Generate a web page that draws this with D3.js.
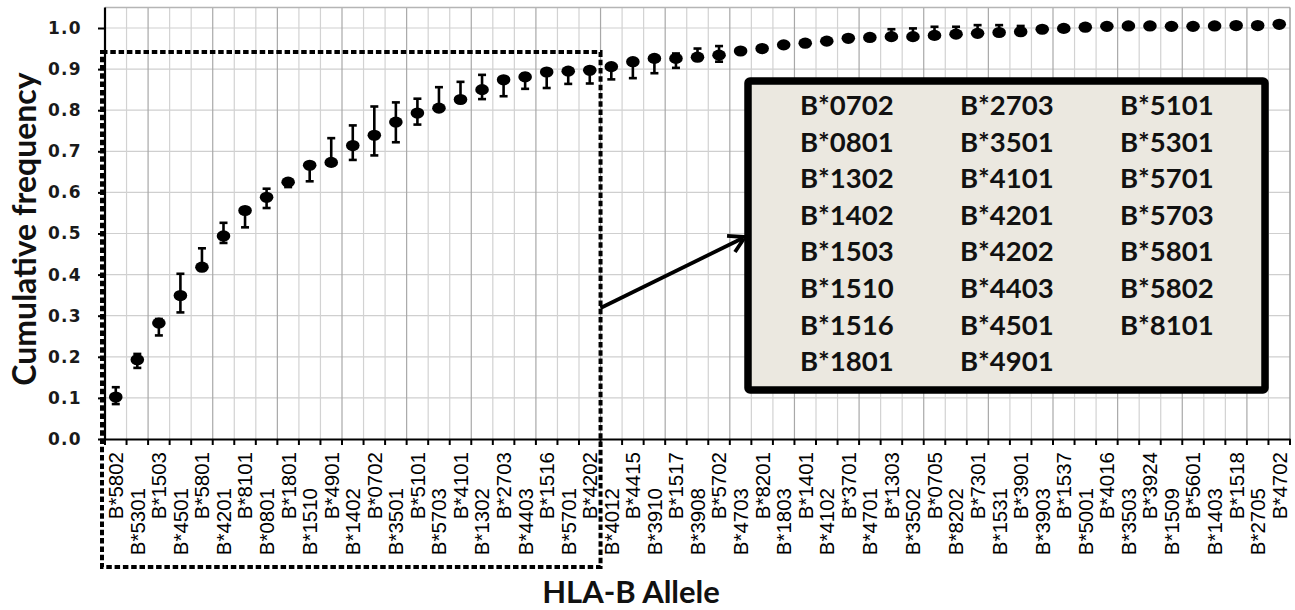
<!DOCTYPE html>
<html><head><meta charset="utf-8">
<script src="https://cdn.jsdelivr.net/npm/d3@7"></script>
<style>
html,body{margin:0;padding:0;background:#fff;}
svg{display:block;}
</style></head>
<body>
<svg id="c" width="1295" height="610"></svg>
<script>
const categories = ["B*5802","B*5301","B*1503","B*4501","B*5801","B*4201","B*8101","B*0801","B*1801","B*1510",
"B*4901","B*1402","B*0702","B*3501","B*5101","B*5703","B*4101","B*1302","B*2703","B*4403",
"B*1516","B*5701","B*4202","B*4012","B*4415","B*3910","B*1517","B*3908","B*5702","B*4703",
"B*8201","B*1803","B*1401","B*4102","B*3701","B*4701","B*1303","B*3502","B*0705","B*8202",
"B*7301","B*1531","B*3901","B*3903","B*1537","B*5001","B*4016","B*3503","B*3924","B*1509",
"B*5601","B*1403","B*1518","B*2705","B*4702"];
const values = [0.102,0.193,0.282,0.349,0.418,0.494,0.556,0.588,0.625,0.666,
0.673,0.714,0.739,0.771,0.793,0.805,0.826,0.850,0.874,0.881,
0.893,0.895,0.897,0.906,0.918,0.926,0.926,0.929,0.934,0.944,
0.950,0.959,0.963,0.968,0.975,0.977,0.979,0.979,0.982,0.985,
0.987,0.989,0.991,0.997,0.999,1.002,1.004,1.005,1.005,1.004,
1.004,1.005,1.006,1.006,1.009];
const errLow = [0.085,0.173,0.252,0.308,0.412,0.477,0.515,0.562,0.613,0.627,
0.668,0.679,0.690,0.722,0.765,0.800,0.822,0.827,0.834,0.852,
0.854,0.864,0.865,0.875,0.878,0.890,0.903,0.922,0.918,0.940,
0.950,0.959,0.963,0.968,0.975,0.977,0.979,0.979,0.982,0.985,
0.987,0.989,0.991,0.997,0.999,1.002,1.004,1.005,1.005,1.004,
1.004,1.005,1.006,1.006,1.009];
const errHigh = [0.126,0.207,0.292,0.402,0.464,0.526,0.562,0.609,0.632,0.672,
0.732,0.763,0.809,0.819,0.828,0.856,0.869,0.886,0.880,0.889,
0.898,0.900,0.902,0.910,0.922,0.930,0.938,0.950,0.956,0.948,
0.950,0.959,0.963,0.968,0.975,0.977,0.997,0.999,1.003,1.003,
1.007,1.007,1.005,0.997,0.999,1.002,1.004,1.005,1.005,1.004,
1.004,1.005,1.006,1.006,1.009];
const yTicks = [0,0.1,0.2,0.3,0.4,0.5,0.6,0.7,0.8,0.9,1.0];
const legendCol1 = ["B*0702","B*0801","B*1302","B*1402","B*1503","B*1510","B*1516","B*1801"];
const legendCol2 = ["B*2703","B*3501","B*4101","B*4201","B*4202","B*4403","B*4501","B*4901"];
const legendCol3 = ["B*5101","B*5301","B*5701","B*5703","B*5801","B*5802","B*8101"];
const yTitle = "Cumulative frequency";
const xTitle = "HLA-B Allele";

const svg = d3.select("#c");
const L = 105, R = 1290, T = 7.45, B = 439;
const x = d3.scaleBand().domain(categories).range([L, R]).padding(0);
const y = d3.scaleLinear().domain([0, 1.05]).range([B, T]);
const bw = x.bandwidth();

// horizontal grid
svg.append("g").selectAll("line").data(yTicks.slice(1)).join("line")
  .attr("x1", L).attr("x2", R).attr("y1", d => y(d)).attr("y2", d => y(d))
  .attr("stroke", "#cfcfcf").attr("stroke-width", 1.2);
// vertical grid at band boundaries
svg.append("g").selectAll("line").data(categories.slice(1)).join("line")
  .attr("x1", d => x(d)).attr("x2", d => x(d)).attr("y1", T).attr("y2", B)
  .attr("stroke", (d, i) => ((i + 1) % 3 === 2 ? "#a8a8a8" : "#d2d2d2")).attr("stroke-width", 1.2);
// frame top/right
svg.append("line").attr("x1", L).attr("x2", R).attr("y1", T).attr("y2", T).attr("stroke", "#b5b5b5").attr("stroke-width", 1.5);
svg.append("line").attr("x1", R).attr("x2", R).attr("y1", T).attr("y2", B).attr("stroke", "#a0a0a0").attr("stroke-width", 1.5);

// x axis
const xAxis = svg.append("g").attr("transform", `translate(0,${B})`)
  .call(d3.axisBottom(x).tickSize(0).tickPadding(0));
xAxis.select(".domain").attr("stroke", "#000").attr("stroke-width", 2.2);
xAxis.selectAll(".tick text")
  .attr("font-family", "'Liberation Sans', Arial, sans-serif")
  .attr("font-size", 20.5).attr("fill", "#000")
  .attr("text-anchor", "end")
  .attr("transform", (d, i) => `translate(0,${i % 2 === 0 ? 13 : 49}) rotate(-90)`)
  .attr("x", 0).attr("y", 0).attr("dy", "0.36em");
// boundary ticks
svg.append("g").selectAll("line").data(categories.concat(["__end"])).join("line")
  .attr("x1", d => d === "__end" ? R : x(d)).attr("x2", d => d === "__end" ? R : x(d))
  .attr("y1", B).attr("y2", B + 6).attr("stroke", "#000").attr("stroke-width", 2);

// y axis
const yAxis = svg.append("g").attr("transform", `translate(${L},0)`)
  .call(d3.axisLeft(y).tickValues(yTicks).tickFormat(d3.format(".1f")).tickSize(7).tickPadding(16));
yAxis.select(".domain").attr("stroke", "#000").attr("stroke-width", 2.2).attr("d", `M0,${B}V${T}`);
yAxis.selectAll(".tick line").attr("stroke", "#000").attr("stroke-width", 2);
yAxis.selectAll(".tick text")
  .attr("font-family", "'DejaVu Sans', Verdana, sans-serif").attr("font-weight", "bold")
  .attr("font-size", 17).attr("letter-spacing", "1.3px").attr("fill", "#1a1a1a");

// error bars
const withErr = categories.map((c, i) => ({c, v: values[i], lo: errLow[i], hi: errHigh[i]}))
  .filter(d => d.hi - d.lo > 0.0005);
const eb = svg.append("g").attr("stroke", "#000").attr("stroke-width", 2.6);
eb.selectAll("line.v").data(withErr).join("line").attr("class", "v")
  .attr("x1", d => x(d.c) + bw / 2).attr("x2", d => x(d.c) + bw / 2)
  .attr("y1", d => y(d.lo)).attr("y2", d => y(d.hi));
eb.selectAll("line.t").data(withErr).join("line").attr("class", "t")
  .attr("x1", d => x(d.c) + bw / 2 - 4).attr("x2", d => x(d.c) + bw / 2 + 4)
  .attr("y1", d => y(d.hi)).attr("y2", d => y(d.hi));
eb.selectAll("line.b").data(withErr).join("line").attr("class", "b")
  .attr("x1", d => x(d.c) + bw / 2 - 4).attr("x2", d => x(d.c) + bw / 2 + 4)
  .attr("y1", d => y(d.lo)).attr("y2", d => y(d.lo));

// markers
svg.append("g").selectAll("ellipse").data(categories).join("ellipse")
  .attr("cx", d => x(d) + bw / 2).attr("cy", (d, i) => y(values[i]))
  .attr("rx", 6.8).attr("ry", 5.6).attr("fill", "#000");

// dotted box
svg.append("rect").attr("x", 102).attr("y", 52)
  .attr("width", x(categories[23]) - 102).attr("height", 567 - 52)
  .attr("fill", "none").attr("stroke", "#000").attr("stroke-width", 4)
  .attr("stroke-dasharray", "5.5,2.8");

// arrow
const ax0 = x(categories[23]), ay0 = 308, ax1 = 745, ay1 = 237;
svg.append("line").attr("x1", ax0).attr("y1", ay0).attr("x2", ax1 - 2).attr("y2", ay1 + 1)
  .attr("stroke", "#000").attr("stroke-width", 3.8);
const ang = Math.atan2(ay1 - ay0, ax1 - ax0), hl = 18, ha = Math.PI / 6;
svg.append("path")
  .attr("d", `M${ax1 - hl * Math.cos(ang - ha)},${ay1 - hl * Math.sin(ang - ha)}L${ax1},${ay1}L${ax1 - hl * Math.cos(ang + ha)},${ay1 - hl * Math.sin(ang + ha)}`)
  .attr("fill", "none").attr("stroke", "#000").attr("stroke-width", 3.8).attr("stroke-linejoin", "miter");

// legend box
svg.append("rect").attr("x", 748).attr("y", 81).attr("width", 517).attr("height", 309)
  .attr("rx", 2).attr("fill", "#ebe8e0").attr("stroke", "#000").attr("stroke-width", 7.5);
const lg = svg.append("g").attr("font-family", "Lato, 'Open Sans', sans-serif")
  .attr("font-weight", "bold").attr("font-size", 27.5).attr("fill", "#111");
[[legendCol1, 800], [legendCol2, 960], [legendCol3, 1120]].forEach(([col, cx]) => {
  lg.append("g").selectAll("text").data(col).join("text")
    .attr("x", cx).attr("y", (d, i) => 115 + i * 36.6).text(d => d);
});

// titles
svg.append("text").attr("transform", "translate(36,229) rotate(-90)")
  .attr("text-anchor", "middle").attr("font-family", "Lato, 'Open Sans', sans-serif")
  .attr("font-weight", "bold").attr("font-size", 32).attr("fill", "#111").text(yTitle);
svg.append("text").attr("x", 631).attr("y", 603).attr("text-anchor", "middle")
  .attr("font-family", "Lato, 'Open Sans', sans-serif")
  .attr("font-weight", "bold").attr("font-size", 31).attr("fill", "#111").text(xTitle);
</script>
</body></html>
